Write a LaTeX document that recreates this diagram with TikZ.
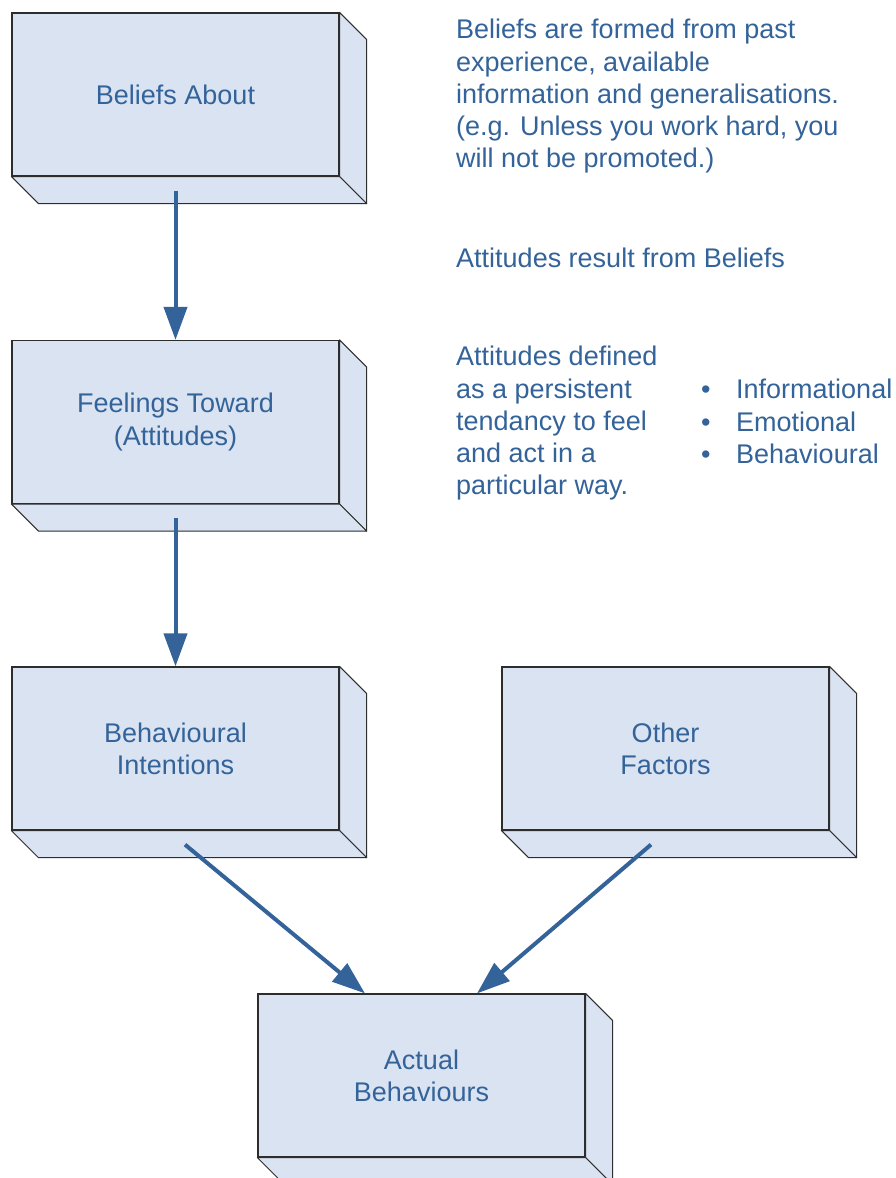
\documentclass[tikz,border=0pt]{standalone}
\usepackage{fontspec}
\setmainfont{Liberation Sans}
\usetikzlibrary{arrows.meta}
\definecolor{boxfill}{RGB}{218,227,242}
\definecolor{inkblue}{RGB}{51,99,153}
\definecolor{edge}{RGB}{45,45,45}

\begin{document}
\begin{tikzpicture}[x=1pt,y=-1pt,
  slab/.style={draw=edge, line width=1.2pt, fill=boxfill, minimum width=327pt, minimum height=163pt,
    inner sep=0pt, align=center, text=inkblue, font=\fontsize{27}{32.3}\selectfont},
  face/.style={draw=edge, line width=1pt, fill=boxfill, line join=round},
  flow/.style={-{Triangle[length=33pt,width=23pt]}, line width=4pt, draw=inkblue},
  note/.style={anchor=north west, inner sep=0pt, align=left, text=inkblue, font=\fontsize{27}{32.3}\selectfont}]
\useasboundingbox (0,0) rectangle (895,1178);

%boxes
\node[slab] (beliefs) at (175.5,94.5) {Beliefs About};
\node[slab] (feelings) at (175.5,422) {Feelings Toward\\(Attitudes)};
\node[slab] (intentions) at (175.5,748.5) {Behavioural\\Intentions};
\node[slab] (factors) at (665.5,748.5) {Other\\Factors};
\node[slab] (actual) at (421.5,1075.5) {Actual\\Behaviours};

%depth of the boxes
\foreach \n in {beliefs,feelings,intentions,factors,actual} {
  \draw[face] (\n.north east) -- ([shift={(27,27)}]\n.north east) -- ([shift={(27,27)}]\n.south east) -- (\n.south east) -- cycle;
  \draw[face] (\n.south west) -- ([shift={(27,27)}]\n.south west) -- ([shift={(27,27)}]\n.south east) -- (\n.south east) -- cycle;
}

%arrows
\draw[flow] ([shift={(0,14)}]beliefs.south) -- (feelings.north);
\draw[flow] ([shift={(0,14)}]feelings.south) -- (intentions.north);
\draw[flow] ([shift={(9.5,14)}]intentions.south) -- ([shift={(-56.5,0)}]actual.north);
\draw[flow] ([shift={(-14.5,14)}]factors.south) -- ([shift={(55.5,0)}]actual.north);

%labels
\node[note] (formed) at (456,19) {Beliefs are formed from past\\experience, available\\information and generalisations.\\(e.g. Unless you work hard, you\\will not be promoted.)};
\node[note] (result) at (456,248) {Attitudes result from Beliefs};
\node[note] (defined) at (456,346) {Attitudes defined\\as a persistent\\tendancy to feel\\and act in a\\particular way.};
\node[note] (kinds) at (701,379) {\makebox[35pt][l]{•}Informational\\\makebox[35pt][l]{•}Emotional\\\makebox[35pt][l]{•}Behavioural};

\end{tikzpicture}
\end{document}
